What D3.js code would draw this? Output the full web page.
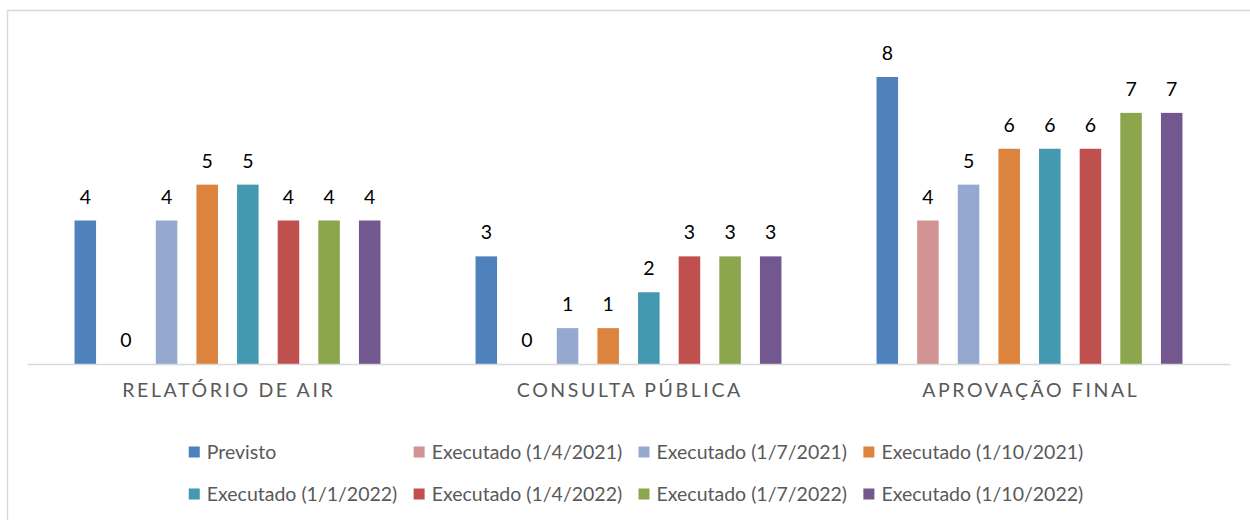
<!DOCTYPE html>
<html>
<head>
<meta charset="utf-8">
<script src="https://cdn.jsdelivr.net/npm/d3@7"></script>
<style>
  body { margin: 0; background: #fff; }
  svg { display: block; font-family: Lato, "Open Sans", sans-serif; }
</style>
</head>
<body>
<svg></svg>
<script>
// data
const categories = ["RELATÓRIO DE AIR", "CONSULTA PÚBLICA", "APROVAÇÃO FINAL"];
const series = ["Previsto", "Executado (1/4/2021)", "Executado (1/7/2021)", "Executado (1/10/2021)",
                "Executado (1/1/2022)", "Executado (1/4/2022)", "Executado (1/7/2022)", "Executado (1/10/2022)"];
const values = [
  [4, 0, 4, 5, 5, 4, 4, 4],  // relatório de AIR
  [3, 0, 1, 1, 2, 3, 3, 3],  // consulta pública
  [8, 4, 5, 6, 6, 6, 7, 7]   // aprovação final
];
const seriesColors = ["#4f81bd", "#d29393", "#95a9d0", "#dc843e", "#4299b0", "#c0504d", "#8ba64d", "#72588f"];

// setup
const width  = 1250;
const height = 520;
const fontSize = 19.5;

const svg = d3.select("svg")
              .attr("width", width)
              .attr("height", height);

// chart border (right and bottom edges run out of the picture)
svg.append("rect")
   .attr("x", 7.5).attr("y", 10.5)
   .attr("width", 1260).attr("height", 530)
   .attr("fill", "none")
   .attr("stroke", "#d9d9d9")
   .attr("stroke-width", 1.5);

const plot = { left: 27, right: 1230, base: 364 };

const x0 = d3.scaleBand()
             .domain(categories)
             .range([plot.left, plot.right]);

const x1 = d3.scaleBand()
             .domain(series)
             .range([0, x0.bandwidth()])
             .paddingInner(0.47)
             .paddingOuter(1.17);

const y = d3.scaleLinear()
            .domain([0, 8])
            .range([plot.base, 77]);

const color = d3.scaleOrdinal().domain(series).range(seriesColors);

// bars
const groups = svg.append("g").attr("class", "bars")
  .selectAll("g")
  .data(categories)
  .join("g")
    .attr("transform", d => `translate(${x0(d)},0)`);

const cells = groups.selectAll("g")
  .data((d, i) => series.map((s, j) => ({ s: s, v: values[i][j] })))
  .join("g");

cells.append("rect")
  .attr("x", d => x1(d.s))
  .attr("width", x1.bandwidth())
  .attr("y", d => y(d.v))
  .attr("height", d => y(0) - y(d.v))
  .attr("fill", d => color(d.s));

// data labels
cells.append("text")
  .attr("x", d => x1(d.s) + x1.bandwidth() / 2)
  .attr("y", d => y(d.v) - 17)
  .attr("text-anchor", "middle")
  .attr("font-size", fontSize)
  .attr("fill", "#000")
  .text(d => d.v);

// category axis
const xAxis = svg.append("g")
  .attr("transform", `translate(0,${plot.base})`)
  .call(d3.axisBottom(x0).tickSize(0).tickPadding(0));

xAxis.select(".domain").attr("stroke", "#d9d9d9").attr("stroke-width", 1.5);
xAxis.selectAll(".tick text")
  .attr("dy", 0)
  .attr("y", 33)
  .attr("font-family", "Lato, 'Open Sans', sans-serif")
  .attr("font-size", fontSize)
  .attr("letter-spacing", 2.6)
  .attr("fill", "#595959")
  .attr("dx", 1.3);

// legend: two rows of four equal columns
const legend = svg.append("g").attr("class", "legend");
const perRow = 4;
const rowY = [453, 495];
const swatch = 11;

const items = legend.selectAll("g")
  .data(series)
  .join("g");

items.append("rect")
  .attr("width", swatch).attr("height", swatch)
  .attr("y", -swatch / 2 - 1)
  .attr("fill", d => color(d));

items.append("text")
  .attr("x", swatch + 7)
  .attr("y", fontSize * 0.36 - 1)
  .attr("font-size", fontSize)
  .attr("fill", "#595959")
  .text(d => d);

let maxW = 0;
items.selectAll("text").each(function(){ maxW = Math.max(maxW, this.getComputedTextLength()); });
const colW = swatch + 7 + maxW + 5;
const legendW = colW * (perRow - 1) + swatch + 7 + maxW;
const legendX = 636 - legendW / 2;

items.attr("transform", (d, i) => `translate(${legendX + (i % perRow) * colW},${rowY[Math.floor(i / perRow)]})`);
</script>
</body>
</html>
